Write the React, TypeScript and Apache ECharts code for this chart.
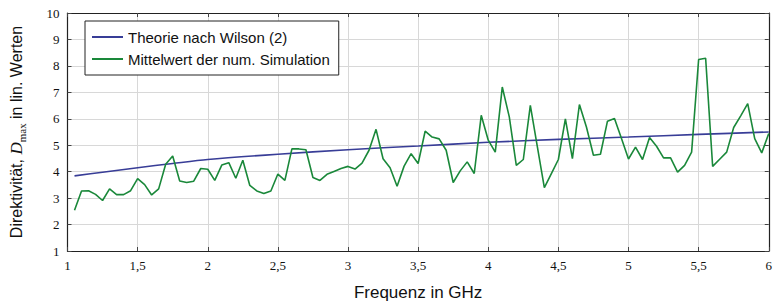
import React, { useEffect, useRef } from "react";
import * as echarts from "echarts";

const frequencies = [
  1.05, 1.1, 1.15, 1.2, 1.25, 1.3, 1.35, 1.4, 1.45, 1.5,
  1.55, 1.6, 1.65, 1.7, 1.75, 1.8, 1.85, 1.9, 1.95, 2.0,
  2.05, 2.1, 2.15, 2.2, 2.25, 2.3, 2.35, 2.4, 2.45, 2.5,
  2.55, 2.6, 2.65, 2.7, 2.75, 2.8, 2.85, 2.9, 2.95, 3.0,
  3.05, 3.1, 3.15, 3.2, 3.25, 3.3, 3.35, 3.4, 3.45, 3.5,
  3.55, 3.6, 3.65, 3.7, 3.75, 3.8, 3.85, 3.9, 3.95, 4.0,
  4.05, 4.1, 4.15, 4.2, 4.25, 4.3, 4.35, 4.4, 4.45, 4.5,
  4.55, 4.6, 4.65, 4.7, 4.75, 4.8, 4.85, 4.9, 4.95, 5.0,
  5.05, 5.1, 5.15, 5.2, 5.25, 5.3, 5.35, 5.4, 5.45, 5.5,
  5.55, 5.6, 5.65, 5.7, 5.75, 5.8, 5.85, 5.9, 5.95, 6.0,
];

const simulationMean = [
  2.54, 3.27, 3.28, 3.14, 2.91, 3.35, 3.13, 3.13, 3.28, 3.74,
  3.51, 3.12, 3.35, 4.28, 4.59, 3.65, 3.59, 3.64, 4.12, 4.09,
  3.67, 4.25, 4.34, 3.75, 4.43, 3.48, 3.27, 3.17, 3.27, 3.91,
  3.67, 4.86, 4.86, 4.83, 3.78, 3.67, 3.9, 4.01, 4.12, 4.2,
  4.1, 4.32, 4.81, 5.6, 4.49, 4.15, 3.45, 4.21, 4.68, 4.31,
  5.53, 5.31, 5.24, 4.81, 3.59, 4.03, 4.37, 3.93, 6.13, 5.19,
  4.74, 7.2, 6.07, 4.24, 4.46, 6.51, 4.95, 3.4, 3.93, 4.46,
  6.0, 4.49, 6.54, 5.69, 4.62, 4.66, 5.91, 6.01, 5.25, 4.48,
  4.93, 4.46, 5.29, 4.96, 4.52, 4.52, 3.98, 4.24, 4.74, 8.24,
  8.29, 4.2, 4.47, 4.74, 5.67, 6.11, 6.57, 5.25, 4.71, 5.44,
];

const theoryFreq = [1.05, 1.25, 1.5, 1.75, 2, 2.5, 3, 3.5, 4, 4.5, 5, 5.5, 6];
const theoryValues = [3.84, 3.98, 4.15, 4.31, 4.46, 4.66, 4.83, 4.97, 5.11, 5.22, 5.31, 5.41, 5.5];

const seriesNames = ["Theorie nach Wilson (2)", "Mittelwert der num. Simulation"];

const fmtComma = (v: number) => String(v).replace(".", ",");

export default function App() {
  const ref = useRef<HTMLDivElement>(null);
  useEffect(() => {
    if (!ref.current) return;
    const chart = echarts.init(ref.current, undefined, { renderer: "svg" });
    const serif = "Liberation Serif";
    const sans = "Liberation Sans";
    const axisCommon = {
      type: "value" as const,
      axisLine: { show: true, onZero: false, lineStyle: { color: "#222", width: 1.2 } },
      axisTick: { show: true, inside: true, length: 4, lineStyle: { color: "#444", width: 1 } },
    };
    chart.setOption({
      animation: false,
      grid: { left: 64, right: 5, top: 13, bottom: 57 },
      legend: {
        orient: "vertical",
        left: 85,
        top: 21,
        padding: [8, 9, 8, 7],
        icon: "rect",
        itemGap: 6,
        itemWidth: 31,
        itemHeight: 2,
        borderColor: "#222",
        borderWidth: 1,
        borderRadius: 0,
        backgroundColor: "#fff",
        textStyle: { fontFamily: sans, fontSize: 15, color: "#111", lineHeight: 16 },
        data: seriesNames,
      },
      xAxis: [
        {
          ...axisCommon,
          min: 1,
          max: 6,
          interval: 0.5,
          position: "bottom",
          name: "Frequenz in GHz",
          nameLocation: "middle",
          nameGap: 33,
          nameTextStyle: { fontFamily: sans, fontSize: 17, color: "#111" },
          axisLabel: { fontFamily: serif, fontSize: 13, color: "#111", margin: 8, formatter: fmtComma },
          splitLine: { show: true, lineStyle: { color: "#d8d8d8", width: 1 } },
        },
        {
          ...axisCommon,
          min: 1,
          max: 6,
          interval: 0.5,
          position: "top",
          axisLabel: { show: false },
          splitLine: { show: false },
        },
      ],
      yAxis: [
        {
          ...axisCommon,
          min: 1,
          max: 10,
          interval: 1,
          position: "left",
          name: "{a|Direktivität, }{d|D}{s|max}{a| in lin. Werten}",
          nameLocation: "middle",
          nameGap: 40,
          nameRotate: 90,
          nameTextStyle: {
            rich: {
              a: { fontFamily: sans, fontSize: 16, color: "#111", lineHeight: 22 },
              d: { fontFamily: serif, fontStyle: "italic", fontSize: 17, color: "#111", lineHeight: 22 },
              s: { fontFamily: serif, fontSize: 11, color: "#111", lineHeight: 22, verticalAlign: "bottom", padding: [6, 0, 0, 0] },
            },
          },
          axisLabel: { fontFamily: serif, fontSize: 13, color: "#111", margin: 8 },
          splitLine: { show: true, lineStyle: { color: "#d8d8d8", width: 1 } },
        },
        {
          ...axisCommon,
          min: 1,
          max: 10,
          interval: 1,
          position: "right",
          axisLabel: { show: false },
          splitLine: { show: false },
        },
      ],
      series: [
        {
          name: seriesNames[0],
          type: "line",
          symbol: "none",
          smooth: 0.3,
          data: theoryFreq.map((f, i) => [f, theoryValues[i]]),
          lineStyle: { color: "#383d97", width: 1.6 },
          itemStyle: { color: "#383d97" },
          z: 3,
        },
        {
          name: seriesNames[1],
          type: "line",
          symbol: "none",
          data: frequencies.map((f, i) => [f, simulationMean[i]]),
          lineStyle: { color: "#1a883a", width: 1.6 },
          itemStyle: { color: "#1a883a" },
          z: 4,
        },
      ],
    });
    return () => chart.dispose();
  }, []);
  return (
    <div
      ref={ref}
      style={{ position: "fixed", left: 0, top: 0, width: 775, height: 308, background: "#fff" }}
    />
  );
}
